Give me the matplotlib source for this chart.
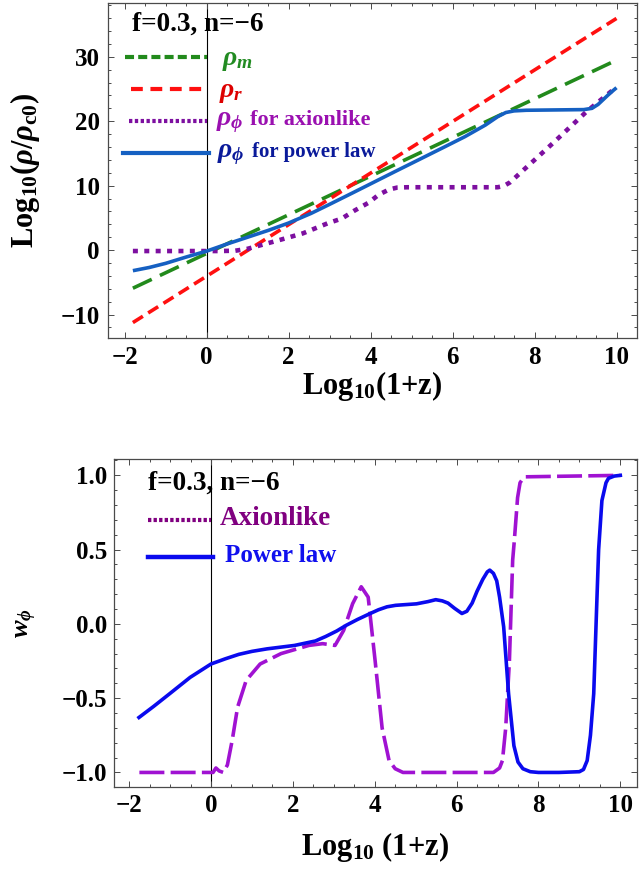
import matplotlib
matplotlib.use("Agg")
import matplotlib.pyplot as plt
from matplotlib.ticker import MultipleLocator

plt.rcParams.update({
    "font.family": ["Liberation Serif", "DejaVu Serif"],
    "font.weight": "bold",
    "mathtext.fontset": "custom",
    "mathtext.rm": "Liberation Serif:bold",
    "mathtext.it": "Liberation Serif:italic:bold",
    "mathtext.bf": "Liberation Serif:bold",
    "lines.scale_dashes": False,
    "axes.unicode_minus": True,
})

# ---- energy densities, log10(rho / rho_c0) vs log10(1+z) ----
z_lin = [-1.8, 10.0]
rho_m = [-5.92, 29.48]
rho_r = [-11.25, 35.95]

z_axion = [-1.8, 0.3, 0.7, 1.0, 1.4, 1.8, 2.35, 2.95, 3.3, 3.6, 3.95, 4.2,
           4.45, 4.65, 4.9, 7.1, 7.25, 7.4, 7.64, 8.45, 9.27, 10.0]
rho_axion = [-0.15, -0.15, -0.1, 0.2, 0.9, 1.6, 2.6, 4.15, 4.9, 6.1, 7.35, 8.6,
             9.4, 9.7, 9.75, 9.75, 9.95, 10.5, 11.9, 16.6, 21.5, 25.3]

z_power = [-1.8, -1.4, -1.0, -0.5, 0.0, 0.5, 1.0, 1.5, 2.0, 2.55, 3.0, 3.6,
           4.1, 4.6, 5.2, 5.8, 6.3, 6.8, 7.1, 7.3, 7.5, 7.8, 8.5, 9.2, 9.4,
           9.55, 9.7, 9.85, 10.0]
rho_power = [-3.2, -2.7, -2.06, -1.08, -0.16, 0.95, 2.0, 3.05, 4.2, 5.7, 7.1, 9.0,
             10.6, 12.2, 14.1, 16.0, 17.6, 19.4, 20.7, 21.35, 21.6, 21.7, 21.75, 21.8, 22.0,
             22.6, 23.5, 24.4, 25.2]

# ---- equation of state w_phi vs log10(1+z) ----
zw_axion = [-1.75, 0.05, 0.12, 0.2, 0.3, 0.4, 0.52, 0.65, 0.86, 1.2, 1.71, 2.39,
            2.73, 3.03, 3.24, 3.46, 3.67, 3.84, 4.01, 4.18, 4.35, 4.5, 4.69, 6.9,
            7.05, 7.12, 7.2, 7.29, 7.37, 7.41, 7.49, 7.55, 7.65, 10.0]
w_axion = [-1.0, -1.0, -0.97, -0.99, -1.0, -0.95, -0.78, -0.56, -0.38, -0.27, -0.20, -0.145,
           -0.133, -0.145, -0.044, 0.136, 0.25, 0.18, -0.25, -0.70, -0.92, -0.975, -1.0, -1.0,
           -0.97, -0.92, -0.70, -0.25, 0.43, 0.56, 0.85, 0.95, 0.99, 1.0]

zw_power = [-1.76, -1.4, -1.01, -0.51, 0.0, 0.35, 0.68, 1.0, 1.37, 2.04, 2.55, 2.8,
            3.07, 3.3, 3.58, 3.85, 4.09, 4.3, 4.51, 5.02, 5.3, 5.49, 5.65, 5.79,
            5.95, 6.13, 6.25, 6.38, 6.5, 6.64, 6.75, 6.81, 6.9, 6.98, 7.05, 7.15,
            7.27, 7.4, 7.5, 7.62, 7.8, 8.0, 8.5, 9.0, 9.1, 9.19, 9.27, 9.35,
            9.42, 9.47, 9.55, 9.65, 9.71, 9.85, 10.0]
w_power = [-0.63, -0.555, -0.47, -0.36, -0.27, -0.235, -0.205, -0.185, -0.168, -0.145, -0.115, -0.085,
           -0.048, -0.01, 0.03, 0.065, 0.095, 0.115, 0.125, 0.135, 0.15, 0.163, 0.155, 0.14,
           0.105, 0.07, 0.085, 0.14, 0.22, 0.30, 0.35, 0.362, 0.34, 0.29, 0.18, -0.02,
           -0.47, -0.82, -0.93, -0.975, -0.995, -1.0, -1.0, -0.995, -0.98, -0.92, -0.75, -0.47,
           0.1, 0.5, 0.83, 0.95, 0.98, 0.995, 1.0]

x_ticks = [-2, 0, 2, 4, 6, 8, 10]
rho_ticks = [-10, 0, 10, 20, 30]
w_ticks = [-1.0, -0.5, 0.0, 0.5, 1.0]

W, H = 640, 869
fig = plt.figure(figsize=(W / 100, H / 100), dpi=100)


def px_axes(l, t, r, b):
    return fig.add_axes([l / W, 1 - b / H, (r - l) / W, (b - t) / H])


frame = "#4a4a4a"
TICK_FS = 18
LABEL_FS = 22


def style(ax, ymin_step, lab_pad):
    for s in ax.spines.values():
        s.set_color(frame)
        s.set_linewidth(0.9)
    ax.tick_params(which="both", direction="in", top=True, right=True,
                   color=frame, width=0.7, labelsize=TICK_FS, pad=lab_pad)
    ax.tick_params(which="major", length=4.3)
    ax.tick_params(which="minor", length=2.4)
    ax.xaxis.set_minor_locator(MultipleLocator(0.5))
    ax.yaxis.set_minor_locator(MultipleLocator(ymin_step))
    for lbl in ax.get_xticklabels() + ax.get_yticklabels():
        lbl.set_fontweight("bold")
    ax.axvline(0, color="black", lw=0.8, zorder=1)


# ===== upper panel =====
ax1 = px_axes(108.3, 3.3, 637, 337.7)
ax1.set_xlim(-2.4, 10.5)
ax1.set_ylim(-13.6, 38.3)
ax1.set_xticks(x_ticks)
ax1.set_yticks(rho_ticks)
style(ax1, 2, 6.0)

c_green, c_red, c_purp, c_blue = "#228a1c", "#ff1010", "#7d0fa0", "#1560c2"
ax1.plot(z_lin, rho_m, color=c_green, lw=2.6, dashes=(15, 6.5), dash_capstyle="butt")
ax1.plot(z_lin, rho_r, color=c_red, lw=2.6, dashes=(8.5, 4.5), dash_capstyle="butt")
ax1.plot(z_axion, rho_axion, color=c_purp, lw=3.3, dashes=(3.6, 4.6), dash_capstyle="butt")
ax1.plot(z_power, rho_power, color=c_blue, lw=2.6, solid_capstyle="butt")

# legend drawn in data coordinates
ax1.plot([-2.0, 0.0], [30, 30], color=c_green, lw=3.0, dashes=(6.5, 3.0))
ax1.plot([-1.85, 0.0], [25, 25], color=c_red, lw=3.0, dashes=(8.5, 5.5))
ax1.plot([-1.9, 0.0], [20, 20], color=c_purp, lw=3.0, dashes=(2.4, 1.8))
ax1.plot([-2.05, 0.05], [15, 15], color=c_blue, lw=3.0)
ax1.text(-1.82, 35, "f=0.3, n=\u22126", fontsize=19.5, fontweight="bold", va="center", ha="left")
ax1.text(0.37, 29.4, r"$\rho_m$", fontsize=20, color="#228b22", va="center")
ax1.text(0.31, 24.4, r"$\rho_r$", fontsize=20, color="#dd0000", va="center")
ax1.text(0.23, 19.8, r"$\rho_\phi$", fontsize=20, color="#9a10b0", va="center")
ax1.text(1.06, 20.2, "for axionlike", fontsize=16, color="#9a10b0", va="center", fontweight="bold")
ax1.text(0.26, 14.8, r"$\rho_\phi$", fontsize=20, color="#0a1a9a", va="center")
ax1.text(1.1, 15.2, "for power law", fontsize=15, color="#0a1a9a", va="center", fontweight="bold")

ax1.set_xlabel(r"Log$_{10}$(1+z)", fontsize=LABEL_FS, fontweight="bold", va="center")
ax1.xaxis.set_label_coords(0.5, -0.1455)
ax1.set_ylabel(r"Log$_{10}$($\rho$/$\rho_{\mathrm{c0}}$)", fontsize=LABEL_FS, fontweight="bold", va="center")
ax1.yaxis.set_label_coords(-0.1576, 0.5)

# ===== lower panel =====
ax2 = px_axes(114, 459.3, 636.7, 787.3)
ax2.set_xlim(-2.37, 10.4)
ax2.set_ylim(-1.1, 1.108)
ax2.set_xticks(x_ticks)
ax2.set_yticks(w_ticks)
ax2.set_yticklabels([f"{v:.1f}".replace("-", "\u2212") for v in w_ticks])
style(ax2, 0.1, 5)

c_violet, c_dblue = "#a012d2", "#0a0aee"
ax2.plot(zw_axion, w_axion, color=c_violet, lw=2.6, dashes=(18, 4.5), dash_capstyle="butt")
ax2.plot(zw_power, w_power, color=c_dblue, lw=2.6)

ax2.plot([-1.53, 0.0], [0.70, 0.70], color="#800080", lw=3.0, dashes=(2.4, 1.6))
ax2.plot([-1.53, 0.05], [0.45, 0.45], color=c_dblue, lw=3.2)
ax2.text(-1.53, 0.95, "f=0.3, n=\u22126", fontsize=19.5, fontweight="bold", va="center", ha="left")
ax2.text(0.22, 0.71, "Axionlike", fontsize=19.5, color="#800080", fontweight="bold", va="center")
ax2.text(0.35, 0.46, "Power law", fontsize=18, color="#1010ee", fontweight="bold", va="center")

ax2.set_xlabel(r"Log$_{10}$ (1+z)", fontsize=LABEL_FS, fontweight="bold", va="center")
ax2.xaxis.set_label_coords(0.5, -0.182)
ax2.set_ylabel(r"$w_\phi$", fontsize=19, fontweight="bold", va="center")
ax2.yaxis.set_label_coords(-0.167, 0.5)

fig.savefig("out.png", dpi=100)
